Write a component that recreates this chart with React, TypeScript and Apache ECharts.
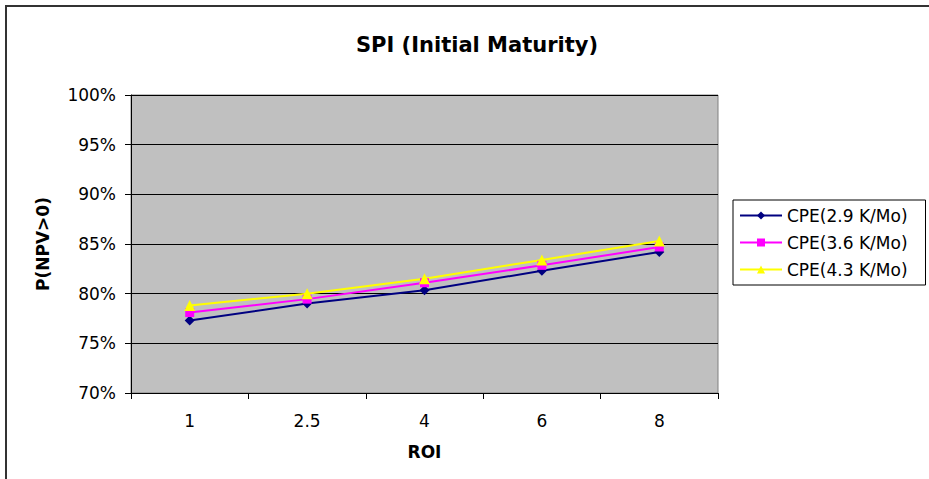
import React, { useEffect, useRef } from "react";
import * as echarts from "echarts";

const categories = ["1", "2.5", "4", "6", "8"];
const cpe29 = [77.3, 79.0, 80.35, 82.3, 84.2];
const cpe36 = [78.1, 79.45, 81.1, 82.85, 84.7];
const cpe43 = [78.8, 80.0, 81.5, 83.4, 85.3];
const seriesNames = ["CPE(2.9 K/Mo)", "CPE(3.6 K/Mo)", "CPE(4.3 K/Mo)"];

const FONT = "DejaVu Sans";

export default function App() {
  const ref = useRef<HTMLDivElement>(null);
  useEffect(() => {
    if (!ref.current) return;
    const chart = echarts.init(ref.current, null, { renderer: "svg" });
    const mk = (name: string, data: number[], color: string, symbol: string, size: number) => ({
      name,
      type: "line",
      data,
      symbol,
      symbolSize: size,
      showSymbol: true,
      lineStyle: { color, width: 2 },
      itemStyle: { color },
    });
    chart.setOption({
      animation: false,
      backgroundColor: "#ffffff",
      title: {
        text: "SPI (Initial Maturity)",
        left: 472,
        textAlign: "center",
        top: 29,
        textStyle: { fontFamily: FONT, fontSize: 21, fontWeight: "bold", color: "#000" },
      },
      graphic: [
        {
          type: "rect",
          shape: { x: 6, y: 6, width: 1000, height: 1000 },
          style: { fill: "none", stroke: "#333", lineWidth: 2 },
          silent: true,
        },
      ],
      legend: {
        orient: "vertical",
        left: 733,
        top: 200,
        padding: [7, 18, 7, 6],
        itemGap: 10,
        itemWidth: 42,
        itemHeight: 10,
        borderColor: "#000",
        borderWidth: 1,
        backgroundColor: "#fff",
        textStyle: { fontFamily: FONT, fontSize: 17, color: "#000" },
        data: seriesNames,
      },
      grid: { left: 131, top: 95, width: 587, height: 298, containLabel: false,
        show: true, backgroundColor: "#c0c0c0", borderColor: "#808080", borderWidth: 1 },
      xAxis: {
        type: "category",
        data: categories,
        boundaryGap: true,
        name: "ROI",
        nameLocation: "middle",
        nameGap: 50,
        nameTextStyle: { fontFamily: FONT, fontSize: 17, fontWeight: "bold", color: "#000" },
        axisLine: { lineStyle: { color: "#000", width: 1 } },
        axisTick: { show: true, inside: false, length: 6, lineStyle: { color: "#000" } },
        axisLabel: { fontFamily: FONT, fontSize: 17, color: "#000", margin: 19 },
        splitLine: { show: false },
      },
      yAxis: {
        type: "value",
        min: 70,
        max: 100,
        interval: 5,
        name: "P(NPV>0)",
        nameLocation: "middle",
        nameGap: 80,
        nameTextStyle: { fontFamily: FONT, fontSize: 17, fontWeight: "bold", color: "#000" },
        axisLine: { show: true, lineStyle: { color: "#000", width: 1 } },
        axisTick: { show: true, inside: false, length: 6, lineStyle: { color: "#000" } },
        axisLabel: { fontFamily: FONT, fontSize: 17, color: "#000", margin: 15, formatter: "{value}%" },
        splitLine: { show: true, lineStyle: { color: "#000", width: 1 } },
      },
      series: [
        mk(seriesNames[0], cpe29, "#000080", "diamond", 10),
        mk(seriesNames[1], cpe36, "#ff00ff", "rect", 9),
        mk(seriesNames[2], cpe43, "#ffff00", "triangle", 11),
      ],
    });
    return () => chart.dispose();
  }, []);
  return (
    <div
      ref={ref}
      style={{ position: "fixed", left: 0, top: 0, width: 929, height: 479 }}
    />
  );
}
